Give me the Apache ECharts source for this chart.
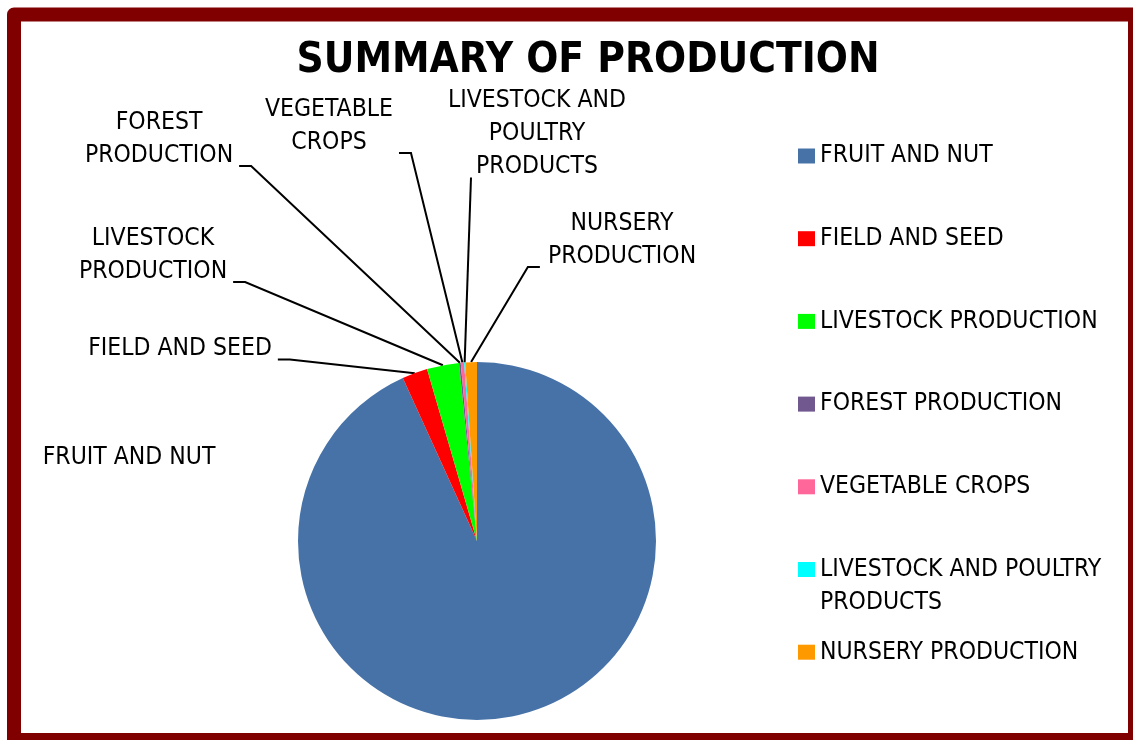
<!DOCTYPE html>
<html>
<head>
<meta charset="utf-8">
<title>Summary of Production</title>
<script src="https://cdn.jsdelivr.net/npm/echarts@6/dist/echarts.min.js"></script>
<style>
  html, body { margin: 0; padding: 0; background: #fff; }
  #chart { width: 1133px; height: 740px; }
</style>
</head>
<body>
<div id="chart"></div>
<script>
// share of total production (%)
const categories = ['FRUIT AND NUT', 'FIELD AND SEED', 'LIVESTOCK PRODUCTION', 'FOREST PRODUCTION',
  'VEGETABLE CROPS', 'LIVESTOCK AND POULTRY PRODUCTS', 'NURSERY PRODUCTION'];
const values = [93.2, 2.3, 2.9, 0.15, 0.3, 0.1, 1.05];
const sliceLabels = ['FRUIT AND NUT', 'FIELD AND SEED', 'LIVESTOCK\nPRODUCTION', 'FOREST\nPRODUCTION',
  'VEGETABLE\nCROPS', 'LIVESTOCK AND\nPOULTRY\nPRODUCTS', 'NURSERY\nPRODUCTION'];
// the blank first line keeps the swatch level with the first text line
const legendLabels = ['FRUIT AND NUT', 'FIELD AND SEED', 'LIVESTOCK PRODUCTION', 'FOREST PRODUCTION',
  'VEGETABLE CROPS', '\nLIVESTOCK AND POULTRY\nPRODUCTS', 'NURSERY PRODUCTION'];

const colors = ['#4672a8', '#ff0000', '#00ff00', '#71588f', '#ff6699', '#00ffff', '#ff9900'];
const FONT = '"DejaVu Sans Condensed", "Liberation Sans Narrow", sans-serif';

// label placement (centre of each text block) and the side the leader line leaves from
const labelPos = [[129, 458], [180, 349], [153, 255], [159, 139], [329, 126], [537, 134], [622, 240]];
const leaderSide = ['none', 'right', 'right', 'right', 'right', 'bottom', 'left'];

// legend rows
const legendFirst = 156;
const legendPitch = 82.7;

const chart = echarts.init(document.getElementById('chart'));

const option = {
  animation: false,
  color: colors,
  title: {
    text: 'SUMMARY OF PRODUCTION',
    left: 588,
    top: 31,
    textAlign: 'center',
    padding: 0,
    textStyle: { fontFamily: FONT, fontWeight: 'bold', fontSize: 42, lineHeight: 60, color: '#000' }
  },
  legend: categories.map(function (name, i) {
    const cy = legendFirst + i * legendPitch;
    const multi = legendLabels[i].indexOf('\n') >= 0;
    return {
      orient: 'vertical',
      left: 798,
      top: multi ? cy - 49.5 : cy - 16.5,
      padding: 0,
      icon: 'rect',
      itemWidth: 17,
      itemHeight: 15,
      selectedMode: false,
      data: [name],
      formatter: function (n) { return legendLabels[categories.indexOf(n)]; },
      textStyle: { fontFamily: FONT, fontSize: 24.5, lineHeight: 33, color: '#000' }
    };
  }),
  graphic: [{
    type: 'rect',
    silent: true,
    z: 100,
    shape: { x: 14, y: 14.5, width: 1121, height: 725.5 },
    style: { fill: 'none', stroke: '#800000', lineWidth: 14, lineJoin: 'round' }
  }],
  series: [{
    type: 'pie',
    center: [477, 541],
    radius: 179,
    startAngle: 90,
    clockwise: true,
    avoidLabelOverlap: false,
    itemStyle: { borderWidth: 0 },
    emphasis: { disabled: true },
    label: {
      position: 'outside',
      color: '#000',
      fontFamily: FONT,
      fontSize: 24.5,
      lineHeight: 33,
      formatter: function (p) { return sliceLabels[p.dataIndex]; }
    },
    labelLine: { lineStyle: { color: '#000', width: 2 } },
    labelLayout: function (params) {
      const i = params.dataIndex;
      const x = labelPos[i][0], y = labelPos[i][1];
      const w = params.labelRect.width, h = params.labelRect.height;
      const out = { x: x, y: y, align: 'center', verticalAlign: 'middle' };
      const pts = params.labelLinePoints;
      if (pts && leaderSide[i] !== 'none') {
        const bottom = y + h / 2 - 6;
        let end, knee;
        if (leaderSide[i] === 'right') {
          end = [x + w / 2 + 6, bottom];
          knee = [end[0] + 12, bottom];
        } else if (leaderSide[i] === 'left') {
          end = [x - w / 2 - 8, bottom];
          knee = [end[0] - 12, bottom];
        } else {
          end = [x - 66, bottom];
          knee = end;
        }
        out.labelLinePoints = [pts[0], knee, end];
      }
      return out;
    },
    data: categories.map(function (name, i) {
      return { name: name, value: values[i], labelLine: { show: leaderSide[i] !== 'none' } };
    })
  }]
};

chart.setOption(option);
</script>
</body>
</html>
